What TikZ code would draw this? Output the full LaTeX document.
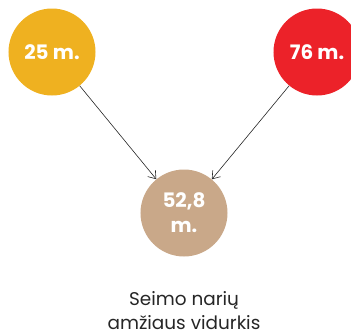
\documentclass[tikz,border=0pt]{standalone}
\usepackage{fontspec}
\setmainfont{Poppins}
\usepackage{tikz}
\usetikzlibrary{positioning}
\usetikzlibrary{arrows.meta}

\definecolor{ageyellow}{RGB}{239,177,32}
\definecolor{agered}{RGB}{236,34,41}
\definecolor{agetan}{RGB}{201,168,137}

\begin{document}
\begin{tikzpicture}[
  x=1bp,y=-1bp,
  bubble/.style={circle,fill=#1,minimum size=87bp,inner sep=0pt,
    text=white,font=\bfseries\fontsize{20}{25}\selectfont},
  link/.style={draw=black!85,line width=0.6bp,
    -{Straight Barb[length=7bp,width=10bp]}}
  ]
  \useasboundingbox (0,0) rectangle (351,335);
  \node (youngest) [bubble=ageyellow]             at (52,52)   {25 m.};
  \node (oldest)   [bubble=agered]                at (317,52)  {76 m.};
  \node (average)  [bubble=agetan,align=center]   at (184,213) {52,8\\m.};
  \node (caption)  [align=center,inner sep=0pt,text=black!85,
    font=\fontsize{18.5}{24}\selectfont]         at (184,311) {Seimo narių\\amžiaus vidurkis};
  \draw [link] (youngest) -- (average);
  \draw [link] (oldest)   -- (average);
\end{tikzpicture}
\end{document}
